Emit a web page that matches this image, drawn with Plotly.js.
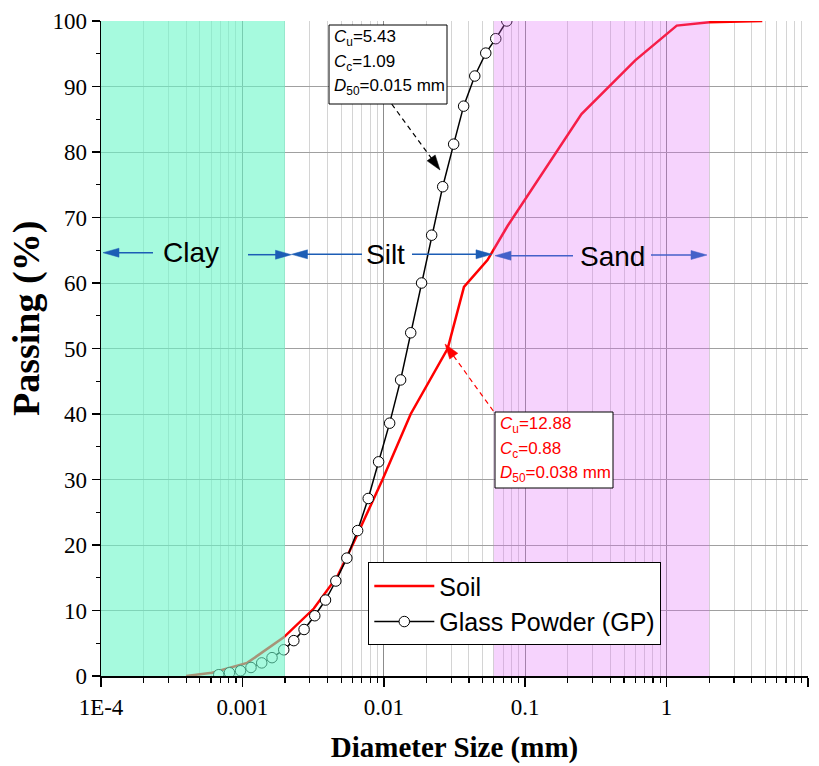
<!DOCTYPE html>
<html>
<head>
<meta charset="utf-8">
<script src="https://cdn.plot.ly/plotly-3.0.1.min.js"></script>
<style>html,body{margin:0;padding:0;background:#fff;}#chart{width:819px;height:766px;}</style>
</head>
<body>
<div id="chart"></div>
<script>
// ---- Data ----
const soilDiameter = [0.0004, 0.00061, 0.00108, 0.00196, 0.0032, 0.00469, 0.00601, 0.0098, 0.0155, 0.0283, 0.0369, 0.0541, 0.075, 0.15, 0.25, 0.6, 1.18, 2, 4.75];
const soilPassing  = [0, 0.5, 2.0, 5.9, 10.3, 15.2, 20.0, 30.0, 40.0, 50.0, 59.4, 63.5, 68.7, 78.5, 85.8, 94.0, 99.3, 99.8, 100];

const gpDiameter = [0.00068, 0.00081, 0.00097, 0.00115, 0.00137, 0.00162, 0.00196, 0.00231, 0.00273, 0.00325, 0.00387, 0.00458, 0.00548, 0.00653, 0.00776, 0.00919, 0.0110, 0.01315, 0.0155, 0.0185, 0.0218, 0.0261, 0.0312, 0.0367, 0.0440, 0.0526, 0.0619, 0.0741];
const gpPassing  = [0.2, 0.5, 0.8, 1.3, 2.0, 2.8, 4.0, 5.4, 7.1, 9.2, 11.6, 14.5, 18.0, 22.2, 27.1, 32.7, 38.6, 45.2, 52.4, 60.0, 67.3, 74.7, 81.2, 87.0, 91.6, 95.1, 97.3, 100];

const seriesNames = ["Soil", "Glass Powder (GP)"];
const xTickVals = [0.0001, 0.001, 0.01, 0.1, 1, 10];
const xTickText = ["1E-4", "0.001", "0.01", "0.1", "1", "10"];
const yTickVals = [0, 10, 20, 30, 40, 50, 60, 70, 80, 90, 100];

const clayRange = [0.0001, 0.002];
const sandRange = [0.06, 2];
const regionLabels = ["Clay", "Silt", "Sand"];
const gpNote = ["5.43", "1.09", "0.015 mm"];
const soilNote = ["12.88", "0.88", "0.038 mm"];

// ---- Layout helpers ----
const W = 819, H = 766;
const M = {l: 101, r: 11, t: 21, b: 90};
const PW = W - M.l - M.r, PH = H - M.t - M.b;
const px = v => (v - M.l) / PW;          // pixel x -> paper
const py = v => (H - M.b - v) / PH;      // pixel y -> paper

const minorVals = [];
for (let e = -4; e < 1; e++) for (let k = 2; k <= 9; k++) minorVals.push(k * Math.pow(10, e));

const SANS = "Liberation Sans, Arial, sans-serif";
const SERIF = "Liberation Serif, Times New Roman, serif";

const shapes = [
  {type: "rect", xref: "x", yref: "paper", x0: clayRange[0], x1: clayRange[1], y0: 0, y1: 1,
   fillcolor: "rgb(107,247,200)", opacity: 0.6, line: {width: 0}, layer: "above"},
  {type: "rect", xref: "x", yref: "paper", x0: sandRange[0], x1: sandRange[1], y0: 0, y1: 1,
   fillcolor: "rgb(224,103,248)", opacity: 0.29, line: {width: 0}, layer: "above"},
  // note boxes
  {type: "rect", xref: "paper", yref: "paper", x0: px(329), x1: px(447), y0: py(104), y1: py(25),
   fillcolor: "#fff", line: {color: "#000", width: 1}, layer: "above"},
  {type: "rect", xref: "paper", yref: "paper", x0: px(495), x1: px(613), y0: py(488), y1: py(412),
   fillcolor: "#fff", line: {color: "#000", width: 1}, layer: "above"}
];

function arrow(tip, tail, color, headLen, headHalf, width, dash) {
  const dx = tip[0] - tail[0], dy = tip[1] - tail[1];
  const L = Math.hypot(dx, dy), ux = dx / L, uy = dy / L;
  const bx = tip[0] - ux * headLen, by = tip[1] - uy * headLen;
  shapes.push({type: "line", xref: "paper", yref: "paper", x0: px(tail[0]), y0: py(tail[1]),
    x1: px(bx + ux * 1), y1: py(by + uy * 1), line: {color: color, width: width, dash: dash || "solid"}, layer: "above"});
  const p1 = [bx - uy * headHalf, by + ux * headHalf], p2 = [bx + uy * headHalf, by - ux * headHalf];
  shapes.push({type: "path", xref: "paper", yref: "paper",
    path: `M${px(tip[0])},${py(tip[1])} L${px(p1[0])},${py(p1[1])} L${px(p2[0])},${py(p2[1])} Z`,
    fillcolor: color, line: {color: color, width: 0.5}, layer: "above"});
}
const dBlue = "#1c5db5", lBlue = "#4461c9";
arrow([103, 252.7], [153, 252.7], dBlue, 16, 4.5, 1.5);
arrow([291.5, 254.7], [248, 254.7], dBlue, 16, 4.5, 1.5);
arrow([291.5, 254.3], [362, 254.3], dBlue, 16, 4.5, 1.5);
arrow([492, 254.3], [412, 254.3], dBlue, 16, 4.5, 1.5);
arrow([495, 255.7], [573, 255.7], lBlue, 16, 4.5, 1.5);
arrow([707, 255], [651, 255], lBlue, 16, 4.5, 1.5);
arrow([440, 170], [391.7, 104], "#000000", 15, 5, 1.2, "5px,4px");
arrow([445, 344], [493.3, 411], "#ff0000", 15, 5, 1.2, "5px,4px");

const annotations = [
  {xref: "paper", yref: "paper", x: px(190.7), y: py(253), text: regionLabels[0], showarrow: false,
   font: {family: SANS, size: 28, color: "#000"}, xanchor: "center", yanchor: "middle"},
  {xref: "paper", yref: "paper", x: px(385), y: py(254), text: regionLabels[1], showarrow: false,
   font: {family: SANS, size: 28, color: "#000"}, xanchor: "center", yanchor: "middle"},
  {xref: "paper", yref: "paper", x: px(612.7), y: py(256), text: regionLabels[2], showarrow: false,
   font: {family: SANS, size: 28, color: "#000"}, xanchor: "center", yanchor: "middle"},
  {xref: "paper", yref: "paper", x: px(26), y: py(319), text: "Passing (%)", textangle: -90, showarrow: false,
   font: {family: SERIF, size: 38, color: "#000", weight: "bold"}, xanchor: "center", yanchor: "middle"}
];
function noteLines(x0, ys, vals, color) {
  const labels = ["<i>C</i><sub>u</sub>=", "<i>C</i><sub>c</sub>=", "<i>D</i><sub>50</sub>="];
  for (let i = 0; i < 3; i++) {
    annotations.push({xref: "paper", yref: "paper", x: px(x0), y: py(ys[i]), xanchor: "left", yanchor: "middle",
      showarrow: false, align: "left", text: labels[i] + vals[i], font: {family: SANS, size: 17, color: color}});
  }
}
noteLines(332, [38.5, 63, 87], gpNote, "#000");
noteLines(497.5, [425, 450, 474], soilNote, "#ff0000");

const traces = [
  {x: soilDiameter, y: soilPassing, name: seriesNames[0], mode: "lines", type: "scatter",
   line: {color: "#ff0000", width: 2.5}},
  {x: gpDiameter, y: gpPassing, name: seriesNames[1], mode: "lines+markers", type: "scatter",
   line: {color: "#000000", width: 1.5},
   marker: {symbol: "circle", size: 10.5, color: "#ffffff", line: {color: "#000000", width: 1}}}
];

const layout = {
  width: W, height: H,
  margin: M,
  paper_bgcolor: "#fff", plot_bgcolor: "#fff",
  showlegend: true,
  legend: {x: px(368.3), y: py(562.3), xanchor: "left", yanchor: "top",
    bgcolor: "#fff", bordercolor: "#000", borderwidth: 1,
    font: {family: SANS, size: 25, color: "#000"}, tracegroupgap: 0, itemwidth: 60},
  xaxis: {
    type: "log", range: [-4, 1],
    tickmode: "array", tickvals: xTickVals, ticktext: xTickText,
    ticks: "outside", ticklen: 9, tickwidth: 1.5, tickcolor: "#000",
    showgrid: true, gridcolor: "#8c8c8c", gridwidth: 1,
    minor: {tickmode: "array", tickvals: minorVals, ticks: "outside", ticklen: 5, tickwidth: 1.2, tickcolor: "#000",
      showgrid: true, gridcolor: "#d4d4d4", gridwidth: 1},
    showline: true, linecolor: "#000", linewidth: 2, zeroline: false,
    tickfont: {family: SERIF, size: 23, color: "#000"},
    title: {text: "Diameter Size (mm)", standoff: 18, font: {family: SERIF, size: 29, color: "#000", weight: "bold"}}
  },
  yaxis: {
    range: [0, 100], tickmode: "array", tickvals: yTickVals,
    ticks: "outside", ticklen: 8, tickwidth: 1.5, tickcolor: "#000",
    minor: {dtick: 5, ticks: "outside", ticklen: 4, tickwidth: 1.2, tickcolor: "#000", showgrid: false},
    showgrid: true, gridcolor: "#a0a0a0", gridwidth: 1,
    showline: true, linecolor: "#000", linewidth: 1.5, zeroline: false,
    tickfont: {family: SERIF, size: 23, color: "#000"}
  },
  shapes: shapes,
  annotations: annotations
};

Plotly.newPlot("chart", traces, layout, {displayModeBar: false, staticPlot: true});
</script>
</body>
</html>
